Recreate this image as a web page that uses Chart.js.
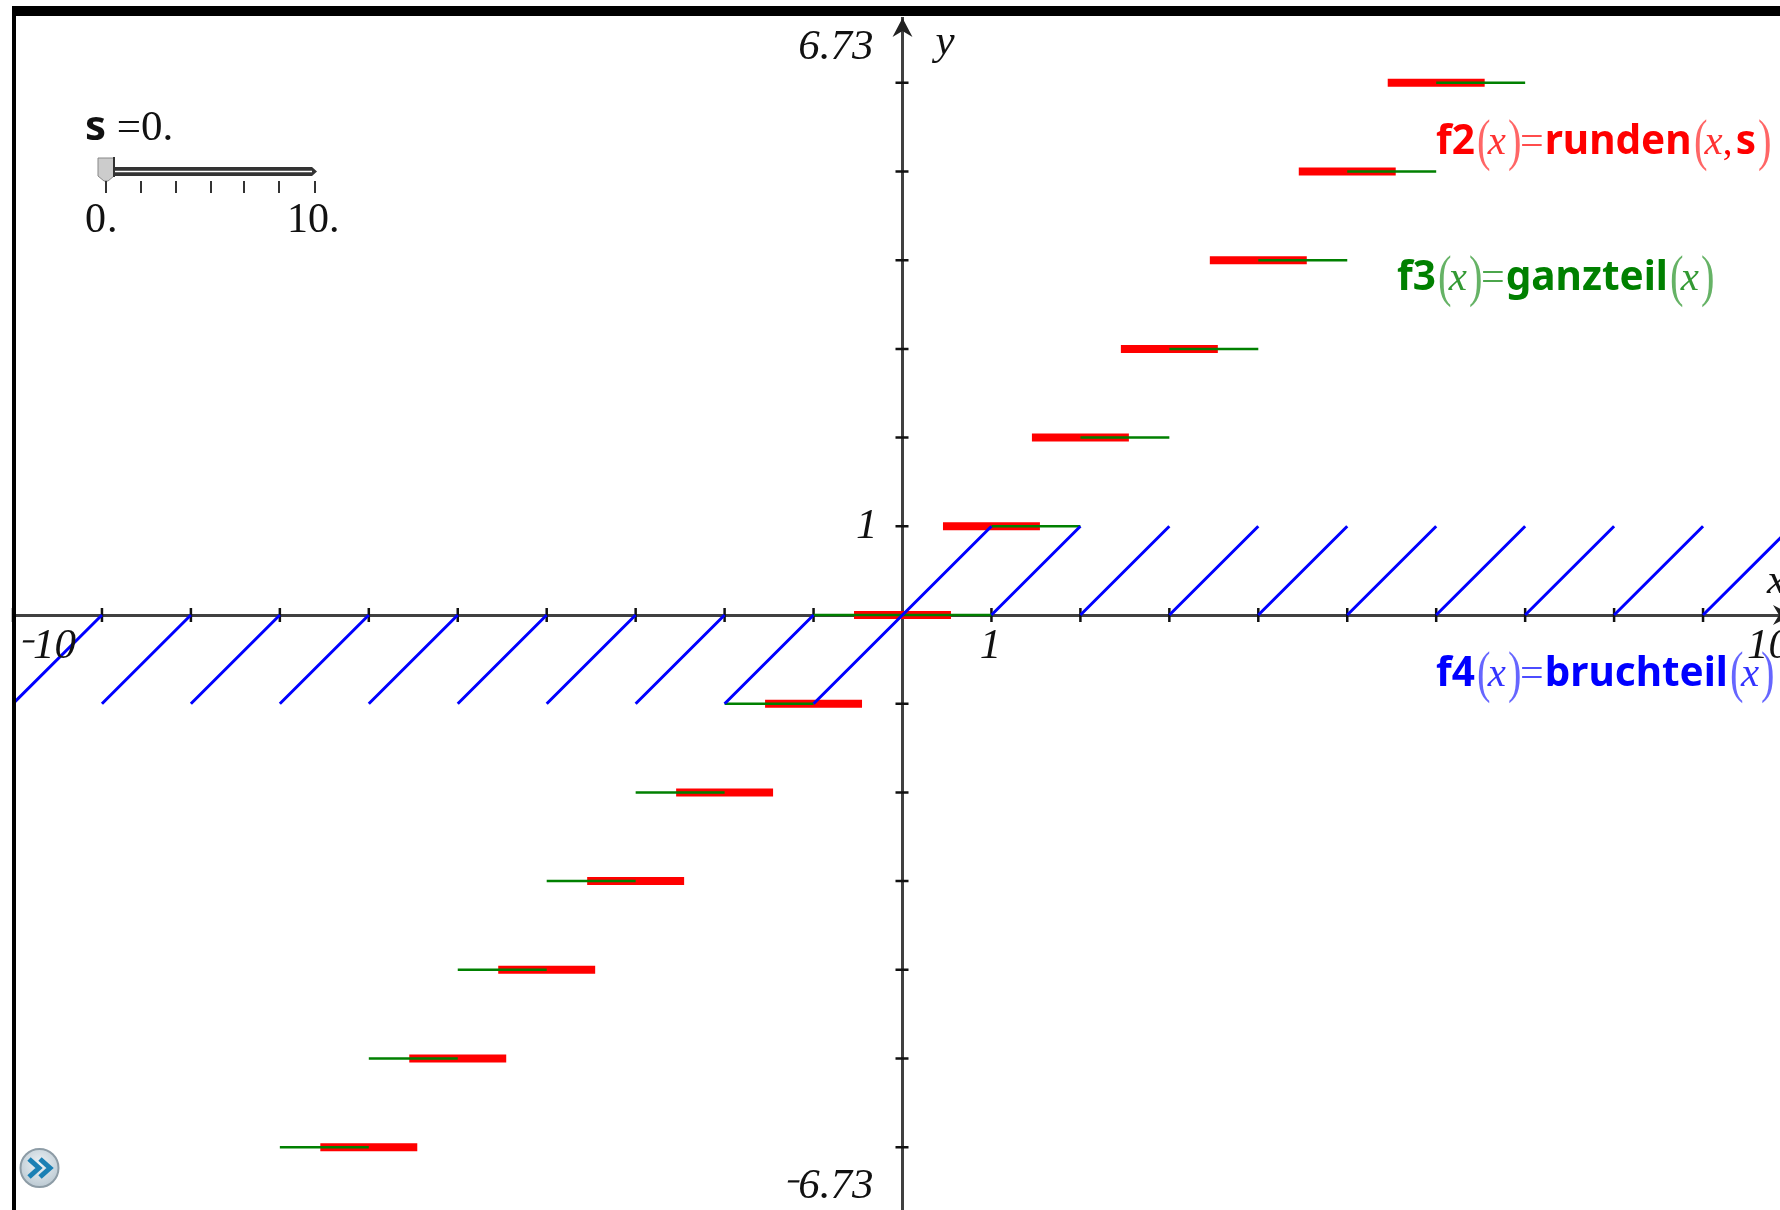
<!DOCTYPE html>
<html>
<head>
<meta charset="utf-8">
<title>runden, ganzteil, bruchteil</title>
<script src="https://cdn.jsdelivr.net/npm/chart.js@4"></script>
<style>
    html, body { margin: 0; padding: 0; background: #fff; width: 1780px; height: 1210px; overflow: hidden; }
    #plot { position: absolute; left: 0; top: 0; }
    #frame { position: absolute; left: 12px; top: 6px; right: 0; bottom: 0; border-top: 10px solid #000; border-left: 4px solid #000; pointer-events: none; }
    .txt { position: absolute; white-space: nowrap; line-height: 1; font-family: "Liberation Serif", serif; }
    .fn { font-size: 39px; height: 60px; line-height: 60px; }
    .fn b { font-family: "Noto Sans", sans-serif; font-weight: 700; font-size: 40.5px; }
    .fn i { font-style: italic; font-size: 41px; opacity: .8; }
    .fn .eq { font-size: 42px; opacity: .7; margin: 0 1px; }
    .fn .p { display: inline-block; font-size: 58px; font-weight: 400; opacity: .6; width: 13px; text-align: center; vertical-align: -5px; line-height: 40px; transform: scaleX(.7); }
    #red { color: #f00; left: 1436px; top: 109px; }
    #green { color: #008000; left: 1397px; top: 245px; }
    #blue { color: #00f; left: 1436px; top: 641px; }
    #slider-label { left: 85px; top: 103px; font-size: 43px; color: #111; }
    #slider-label b { font-family: "Noto Sans", sans-serif; font-size: 42px; }
    #slider-min { left: 85px; top: 197px; font-size: 42px; color: #111; letter-spacing: 1px; }
    #slider-max { left: 287px; top: 197px; font-size: 42px; color: #111; }
    svg { position: absolute; left: 0; top: 0; }
</style>
</head>
<body>
<canvas id="plot" width="1800" height="1212"></canvas>
<div id="frame"></div>

<svg width="400" height="260">
    <path d="M113 167H312L317 171.5L312 176H113Z" fill="#333"/>
    <path d="M113 171.5H312" stroke="#fff" stroke-width="1.6"/>
    <path d="M98 158H114V176L108 181H104L98 176Z" fill="#ccc" stroke="#888" stroke-width="1"/>
    <path d="M114 157V177" stroke="#333" stroke-width="2"/>
    <path d="M106 181V193M141 181V193M176 181V193M211 181V193M244 181V193M279 181V193M315 181V193" stroke="#333" stroke-width="2"/>
</svg>
<div class="txt" id="slider-label"><b>s</b> =0.</div>
<div class="txt" id="slider-min">0.</div>
<div class="txt" id="slider-max">10.</div>

<svg width="80" height="60" style="left:0;top:1140px">
    <defs>
        <radialGradient id="knob" cx="50%" cy="40%" r="60%">
            <stop offset="0" stop-color="#eef3f6"/>
            <stop offset="1" stop-color="#bccad3"/>
        </radialGradient>
    </defs>
    <circle cx="39.5" cy="28" r="19" fill="url(#knob)" stroke="#8d9ca6" stroke-width="2"/>
    <path d="M30 19L40 28L30 37M41 19L51 28L41 37" transform="translate(-1,0)" fill="none" stroke="#1b80b4" stroke-width="5"/>
</svg>

<div class="txt fn" id="red"><b>f2</b><span class="p">(</span><i>x</i><span class="p">)</span><span class="eq">=</span><b>runden</b><span class="p">(</span><i>x</i><span>,&#8202;</span><b>s</b><span class="p">)</span></div>
<div class="txt fn" id="green"><b>f3</b><span class="p">(</span><i>x</i><span class="p">)</span><span class="eq">=</span><b>ganzteil</b><span class="p">(</span><i>x</i><span class="p">)</span></div>
<div class="txt fn" id="blue"><b>f4</b><span class="p">(</span><i>x</i><span class="p">)</span><span class="eq">=</span><b>bruchteil</b><span class="p">(</span><i>x</i><span class="p">)</span></div>

<script>
// Rounding functions on a graph screen

const X_MIN = -10;
const X_MAX = 10;
const Y_MIN = -6.73;
const Y_MAX = 6.73;
const SIGN = '\u207B';

// runden(x, 0), pieces split by null
const roundX = [
    -6.5, -5.5, null, -5.5, -4.5, null, -4.5, -3.5, null, -3.5, -2.5, null,
    -2.5, -1.5, null, -1.5, -0.5, null, -0.5, 0.5, null, 0.5, 1.5, null,
    1.5, 2.5, null, 2.5, 3.5, null, 3.5, 4.5, null, 4.5, 5.5, null, 5.5, 6.5,
];
const roundY = [
    -6, -6, null, -5, -5, null, -4, -4, null, -3, -3, null,
    -2, -2, null, -1, -1, null, 0, 0, null, 1, 1, null,
    2, 2, null, 3, 3, null, 4, 4, null, 5, 5, null, 6, 6,
];

// ganzteil(x)
const intX = [
    -7, -6, null, -6, -5, null, -5, -4, null, -4, -3, null,
    -3, -2, null, -2, -1, null, -1, 1, null, 1, 2, null,
    2, 3, null, 3, 4, null, 4, 5, null, 5, 6, null, 6, 7,
];
const intY = [
    -6, -6, null, -5, -5, null, -4, -4, null, -3, -3, null,
    -2, -2, null, -1, -1, null, 0, 0, null, 1, 1, null,
    2, 2, null, 3, 3, null, 4, 4, null, 5, 5, null, 6, 6,
];

// bruchteil(x)
const fracX = [
    -10, -9, null, -9, -8, null, -8, -7, null, -7, -6, null, -6, -5, null,
    -5, -4, null, -4, -3, null, -3, -2, null, -2, -1, null, -1, 1, null,
    1, 2, null, 2, 3, null, 3, 4, null, 4, 5, null, 5, 6, null,
    6, 7, null, 7, 8, null, 8, 9, null, 9, 10,
];
const fracY = [
    -1, 0, null, -1, 0, null, -1, 0, null, -1, 0, null, -1, 0, null,
    -1, 0, null, -1, 0, null, -1, 0, null, -1, 0, null, -1, 1, null,
    0, 1, null, 0, 1, null, 0, 1, null, 0, 1, null, 0, 1, null,
    0, 1, null, 0, 1, null, 0, 1, null, 0, 1,
];

// tick labels: value, text
const xLabelValues = [-10, 1, 10];
const xLabelTexts = ['10', '1', '10'];
const yLabelValues = [6.73, 1, -6.73];
const yLabelTexts = ['6.73', '1', '6.73'];

function toPoints(xs, ys) {
    return xs.map((x, i) => ({ x: x, y: ys[i] }));
}

function lineDataset(label, xs, ys, color, width, cap, order) {
    return {
        label: label,
        data: toPoints(xs, ys),
        showLine: true,
        spanGaps: false,
        borderColor: color,
        borderWidth: width,
        borderCapStyle: cap,
        pointRadius: 0,
        pointHoverRadius: 0,
        tension: 0,
        fill: false,
        order: order,
    };
}

// the raised minus of the original sits lower than the unicode glyph
function drawSign(ctx, digitsLeft, baseline) {
    ctx.save();
    ctx.textAlign = 'right';
    ctx.fillText(SIGN, digitsLeft - 3, baseline + 9);
    ctx.restore();
}

// --- Axis furniture ---

// crossing tick marks and arrow heads go under the graphs
const axisMarks = {
    id: 'axisMarks',
    beforeDatasetsDraw(chart) {
        const { ctx, scales: { x, y } } = chart;
        const x0 = x.getPixelForValue(0);
        const y0 = y.getPixelForValue(0);
        ctx.save();
        ctx.strokeStyle = '#111';
        ctx.lineWidth = 2.5;
        ctx.beginPath();
        x.ticks.forEach(t => {
            if (t.value === 0) return;
            const px = x.getPixelForValue(t.value);
            ctx.moveTo(px, y0 - 7);
            ctx.lineTo(px, y0 + 7);
        });
        y.ticks.forEach(t => {
            if (t.value === 0) return;
            const py = y.getPixelForValue(t.value);
            ctx.moveTo(x0 - 7, py);
            ctx.lineTo(x0 + 6, py);
        });
        ctx.stroke();

        ctx.fillStyle = '#222';
        const top = y.getPixelForValue(Y_MAX);
        ctx.beginPath();
        ctx.moveTo(x0, top);
        ctx.lineTo(x0 + 10, top + 19);
        ctx.lineTo(x0, top + 13);
        ctx.lineTo(x0 - 10, top + 19);
        ctx.closePath();
        ctx.fill();
        const right = x.getPixelForValue(X_MAX);
        ctx.beginPath();
        ctx.moveTo(right, y0);
        ctx.lineTo(right - 19, y0 - 10);
        ctx.lineTo(right - 13, y0);
        ctx.lineTo(right - 19, y0 + 10);
        ctx.closePath();
        ctx.fill();
        ctx.restore();
    },
    afterDatasetsDraw(chart) {
        const { ctx, scales: { x, y } } = chart;
        const x0 = x.getPixelForValue(0);
        const y0 = y.getPixelForValue(0);
        ctx.save();
        ctx.font = 'italic 43px "Liberation Serif"';
        ctx.fillStyle = '#111';
        ctx.textBaseline = 'alphabetic';

        xLabelValues.forEach((v, i) => {
            const px = x.getPixelForValue(v);
            // the end labels sit inside the frame
            ctx.textAlign = v === X_MIN || v === X_MAX ? 'left' : 'center';
            const dx = v === X_MIN ? 20 : (v === X_MAX ? -45 : -1);
            ctx.fillText(xLabelTexts[i], px + dx, y0 + 43);
            if (v < 0) drawSign(ctx, px + dx, y0 + 43);
        });

        ctx.textAlign = 'right';
        yLabelValues.forEach((v, i) => {
            const py = y.getPixelForValue(v);
            const dy = v === Y_MAX ? 41 : (v === Y_MIN ? -14 : 12);
            const dx = v === 1 ? -25 : -29;
            ctx.fillText(yLabelTexts[i], x0 + dx, py + dy);
            if (v < 0) drawSign(ctx, x0 + dx - ctx.measureText(yLabelTexts[i]).width, py + dy);
        });

        // axis names
        ctx.textAlign = 'left';
        ctx.fillText('y', x0 + 33, y.getPixelForValue(Y_MAX) + 36);
        ctx.fillText('x', x.getPixelForValue(X_MAX) - 25, y0 - 22);
        ctx.restore();
    },
};

// --- Chart ---

new Chart(document.getElementById('plot').getContext('2d'), {
    type: 'scatter',
    data: {
        datasets: [
            lineDataset('f2', roundX, roundY, '#ff0000', 8, 'square', 3),
            lineDataset('f3', intX, intY, '#008000', 2.5, 'butt', 2),
            lineDataset('f4', fracX, fracY, '#0000ff', 3, 'butt', 1),
        ],
    },
    options: {
        responsive: false,
        animation: false,
        layout: { padding: { left: 13, right: 8, top: 18, bottom: 0 } },
        plugins: {
            legend: { display: false },
            tooltip: { enabled: false },
        },
        events: [],
        scales: {
            x: {
                type: 'linear',
                min: X_MIN,
                max: X_MAX,
                position: { y: 0 },
                grid: { display: false },
                border: { display: true, color: '#404040', width: 3 },
                ticks: { display: false, stepSize: 1 },
            },
            y: {
                type: 'linear',
                min: Y_MIN,
                max: Y_MAX,
                position: { x: 0 },
                grid: { display: false },
                border: { display: true, color: '#404040', width: 3 },
                ticks: { display: false, stepSize: 1, includeBounds: false },
            },
        },
    },
    plugins: [axisMarks],
});
</script>
</body>
</html>
